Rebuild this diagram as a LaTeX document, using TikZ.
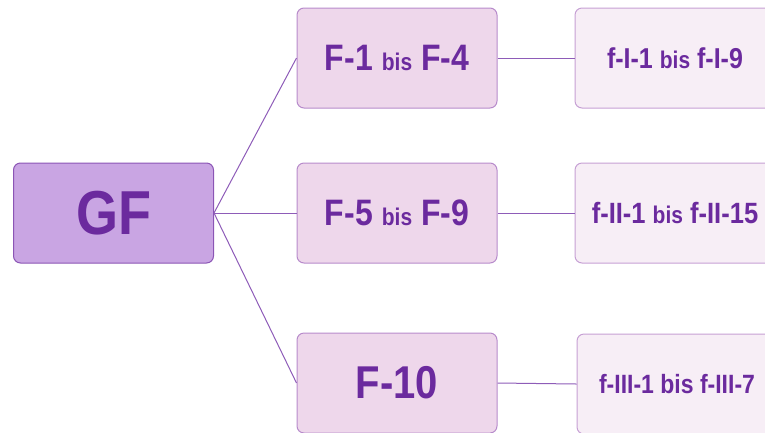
\documentclass[tikz,border=0pt]{standalone}
\usepackage{graphicx}
\usepackage{fontspec}
\setmainfont{Liberation Sans}
\definecolor{schrift}{HTML}{6B2A9E}
\definecolor{linie}{HTML}{8E5CB8}
\definecolor{gffill}{HTML}{C9A5E3}
\definecolor{gfrand}{HTML}{8B55B5}
\definecolor{ffill}{HTML}{EED7EB}
\definecolor{frand}{HTML}{B78BCB}
\definecolor{kfill}{HTML}{F7EEF6}
\definecolor{krand}{HTML}{C6A0D4}
\newcommand{\groesse}[1]{\fontsize{#1}{#1}\selectfont}
\newcommand{\bis}{ {\groesse{21}bis} }
\newcommand{\hoch}[1]{\scalebox{1}[1.15]{#1}} % Текст в образце немного вытянут по вертикали
\tikzset{
    kasten/.style = {draw, line width = 1pt, rounded corners = 7pt,
        minimum width = 200pt, minimum height = 100pt, inner sep = 0pt,
        text = schrift, font = \bfseries},
    gross/.style  = {kasten, fill = ffill, draw = frand},
    klein/.style  = {kasten, fill = kfill, draw = krand},
    ast/.style    = {draw = linie, line width = 1pt}
}
\begin{document}
\begin{tikzpicture}[x = 1pt, y = -1pt]
    \useasboundingbox (0,0) rectangle (765,432); % Размер картинки как у образца
    \node [kasten, fill = gffill, draw = gfrand] (GF) at (113.5,213) {\hoch{\groesse{54}GF}};

    % Средний столбец
    \node [gross] (F1) at (397,58)  {\hoch{\groesse{32}F-1\bis F-4}};
    \node [gross] (F2) at (397,213) {\hoch{\groesse{32}F-5\bis F-9}};
    \node [gross] (F3) at (397,383) {\hoch{\groesse{40}F-10}};

    % Правый столбец (обрезается краем картинки)
    \node [klein] (f1) at (675,58)  {\hoch{\groesse{25}f-I-1\bis f-I-9}};
    \node [klein] (f2) at (675,213) {\hoch{\groesse{25.5}f-II-1\bis f-II-15}};
    \node [klein] (f3) at (677,384) {\hoch{\groesse{23}f-III-1 bis f-III-7}};

    \foreach \p in {1, 2, 3} { % Ветви от GF и к правым блокам
        \draw [ast] (GF.east) -- (F\p.west);
        \draw [ast] (F\p.east) -- (f\p.west);
    }
\end{tikzpicture}
\end{document}
